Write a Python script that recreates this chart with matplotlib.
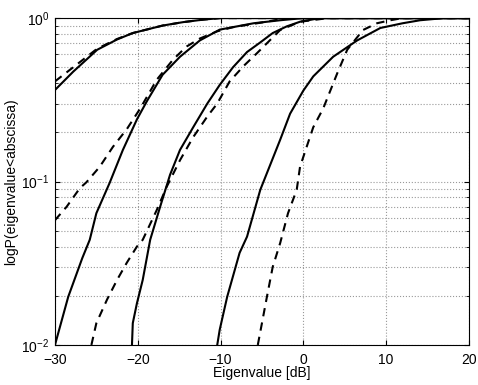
import matplotlib
matplotlib.use("Agg")
import matplotlib.pyplot as plt
from matplotlib.ticker import LogLocator, NullFormatter

plt.rcParams['font.family'] = ['Liberation Sans', 'DejaVu Sans']

# --- dane ---
x_s1 = [-30, -27.8, -24.9, -22.5, -20.6, -17, -14.5, -12, -10, 20]
p_s1 = [0.363, 0.47, 0.64, 0.74, 0.81, 0.90, 0.945, 0.98, 1.0, 1.0]
x_d1 = [-30, -27.8, -24.9, -22.5, -20.6, -17, -14.5, -12, -10, 20]
p_d1 = [0.41, 0.50, 0.65, 0.745, 0.81, 0.90, 0.945, 0.98, 1.0, 1.0]

x_s2 = [-30, -28.4, -26.7, -25.8, -25.0, -23.4, -21.8, -20.1, -18.9, -17.0, -14.9, -12.5, -10.1, -6, -2.8, 0, 20]
p_s2 = [0.01, 0.0197, 0.034, 0.044, 0.064, 0.098, 0.156, 0.24, 0.31, 0.45, 0.58, 0.73, 0.85, 0.93, 0.97, 1.0, 1.0]
x_d2 = [-30, -28.6, -27.0, -26.2, -24.6, -23.0, -21.3, -19.7, -17.7, -15.7, -14.1, -12.5, -10.4, -8.5, -5, -2, 20]
p_d2 = [0.058, 0.07, 0.091, 0.099, 0.123, 0.163, 0.21, 0.28, 0.42, 0.56, 0.67, 0.75, 0.83, 0.88, 0.94, 1.0, 1.0]

x_s3 = [-20.7, -20.6, -20.1, -19.4, -18.5, -17.3, -16.1, -14.9, -13.3, -11.6, -10.1, -8.5, -6.8, -5.2, -3.7, -2.0, -0.4, 2, 20]
p_s3 = [0.01, 0.0136, 0.018, 0.025, 0.044, 0.07, 0.11, 0.156, 0.215, 0.30, 0.39, 0.50, 0.62, 0.71, 0.81, 0.89, 0.95, 1.0, 1.0]
x_d3 = [-25.6, -25.0, -23.7, -22.5, -21.3, -20.1, -19.4, -17.7, -16.5, -14.9, -13.3, -11.6, -10.4, -8.9, -7.2, -5.6, -2.8, -0.4, 3, 20]
p_d3 = [0.01, 0.0136, 0.019, 0.025, 0.032, 0.04, 0.044, 0.067, 0.093, 0.135, 0.187, 0.25, 0.30, 0.41, 0.51, 0.61, 0.845, 0.95, 1.0, 1.0]

x_s4 = [-10.4, -10.1, -9.2, -7.7, -6.8, -5.2, -2.8, -1.6, 0, 1.2, 3.6, 6.5, 9.3, 12, 14.1, 17, 20]
p_s4 = [0.01, 0.0124, 0.0197, 0.0366, 0.046, 0.089, 0.18, 0.26, 0.36, 0.44, 0.58, 0.73, 0.87, 0.93, 0.97, 1.0, 1.0]
x_d4 = [-5.5, -5.0, -4.4, -3.7, -2.8, -1.85, -0.8, -0.4, 0.4, 1.2, 2.4, 4.1, 5.3, 7.2, 8.9, 10.5, 12, 20]
p_d4 = [0.01, 0.0136, 0.0197, 0.030, 0.042, 0.064, 0.089, 0.123, 0.163, 0.215, 0.28, 0.46, 0.64, 0.845, 0.93, 0.97, 1.0, 1.0]

solid = [(x_s1, p_s1), (x_s2, p_s2), (x_s3, p_s3), (x_s4, p_s4)]
dashed = [(x_d1, p_d1), (x_d2, p_d2), (x_d3, p_d3), (x_d4, p_d4)]

# --- rysowanie ---
fig = plt.figure(figsize=(4.78, 3.85), dpi=100)
ax = fig.add_axes([0.115, 0.104, 0.866, 0.849])

for x, p in solid:
    ax.plot(x, p, '-', color='black', linewidth=1.5)
for x, p in dashed:
    ax.plot(x, p, '--', color='black', linewidth=1.5, dashes=(4, 3))

ax.set_yscale('log')
ax.set_xlim(-30, 20)
ax.set_ylim(0.01, 1)
ax.set_xticks([-30, -20, -10, 0, 10, 20])
ax.yaxis.set_minor_locator(LogLocator(base=10, subs=range(2, 10)))
ax.yaxis.set_minor_formatter(NullFormatter())

ax.grid(True, which='major', linestyle=':', color='#999999', linewidth=0.8)
ax.grid(True, which='minor', axis='y', linestyle=':', color='#999999', linewidth=0.8)
ax.tick_params(which='both', direction='in', top=True, right=True, labelsize=10)
ax.tick_params(axis='x', pad=6)
ax.tick_params(axis='y', pad=4)
ax.tick_params(which='minor', length=2)

ax.set_xlabel("Eigenvalue [dB]", fontsize=10, labelpad=-1)
ax.set_ylabel("logP(eigenvalue<abscissa)", fontsize=10, labelpad=2)

fig.savefig("out.png", dpi=100)
